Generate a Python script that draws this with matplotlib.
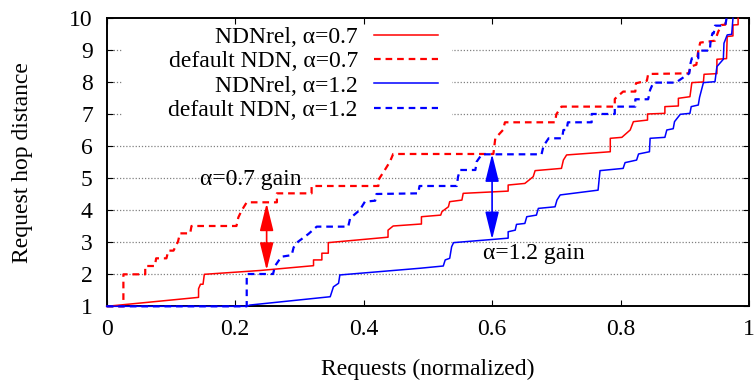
import matplotlib
matplotlib.use("Agg")
import matplotlib.pyplot as plt
from matplotlib.patches import Rectangle, FancyArrowPatch

plt.rcParams['font.family'] = ['Liberation Serif', 'DejaVu Serif']

# ---------------- data (fraction of requests, hop distance) ----------------
rel07_x = [0.0, 0.143, 0.143, 0.146, 0.150, 0.152, 0.239, 0.322, 0.322, 0.335, 0.335, 0.345, 0.345,
           0.438, 0.438, 0.446, 0.488, 0.490, 0.490, 0.520, 0.522, 0.532, 0.534, 0.553, 0.555,
           0.625, 0.625, 0.651, 0.664, 0.667, 0.708, 0.711, 0.716, 0.784, 0.784, 0.802, 0.815,
           0.820, 0.842, 0.842, 0.869, 0.869, 0.890, 0.890, 0.908, 0.911, 0.929, 0.930, 0.950,
           0.950, 0.965, 0.966, 0.975, 0.975, 0.983, 0.983]
rel07_y = [1.0, 1.28, 1.55, 1.69, 1.69, 2.0, 2.12, 2.27, 2.45, 2.45, 2.66, 2.66, 2.99,
           3.16, 3.38, 3.51, 3.57, 3.57, 3.80, 3.85, 3.96, 4.11, 4.27, 4.32, 4.53,
           4.60, 4.79, 4.84, 5.05, 5.24, 5.31, 5.57, 5.73, 5.83, 6.25, 6.28, 6.51,
           6.77, 6.82, 7.01, 7.03, 7.24, 7.26, 7.50, 7.55, 7.99, 8.01, 8.25, 8.27,
           8.72, 8.74, 9.43, 9.45, 9.79, 9.80, 10.0]

def07_x = [0.0, 0.026, 0.026, 0.060, 0.060, 0.075, 0.077, 0.093, 0.096, 0.104, 0.111, 0.114,
           0.130, 0.132, 0.202, 0.205, 0.210, 0.218, 0.265, 0.265, 0.319, 0.319, 0.423, 0.423,
           0.433, 0.441, 0.446, 0.602, 0.605, 0.617, 0.620, 0.698, 0.700, 0.708, 0.791, 0.791,
           0.804, 0.823, 0.824, 0.841, 0.843, 0.906, 0.909, 0.918, 0.921, 0.924, 0.947, 0.952,
           0.957, 0.963, 0.965]
def07_y = [1.0, 1.0, 2.0, 2.0, 2.26, 2.26, 2.50, 2.50, 2.74, 2.74, 3.02, 3.28,
           3.28, 3.51, 3.51, 3.78, 3.99, 4.25, 4.25, 4.53, 4.53, 4.76, 4.76, 4.95,
           5.26, 5.52, 5.76, 5.76, 6.25, 6.51, 6.75, 6.75, 7.00, 7.24, 7.24, 7.48,
           7.71, 7.71, 7.97, 8.05, 8.26, 8.28, 8.49, 8.55, 8.99, 9.24, 9.30, 9.58,
           9.79, 9.80, 10.0]

rel12_x = [0.0, 0.218, 0.223, 0.348, 0.353, 0.361, 0.363, 0.488, 0.524, 0.527, 0.534, 0.537,
           0.540, 0.625, 0.625, 0.636, 0.638, 0.651, 0.654, 0.669, 0.672, 0.698, 0.701, 0.706,
           0.765, 0.768, 0.804, 0.807, 0.825, 0.828, 0.845, 0.846, 0.869, 0.872, 0.882, 0.884,
           0.893, 0.908, 0.910, 0.921, 0.923, 0.926, 0.929, 0.947, 0.950, 0.960, 0.961, 0.966,
           0.973, 0.975]
rel12_y = [1.0, 1.0, 1.04, 1.30, 1.61, 1.72, 1.98, 2.19, 2.26, 2.45, 2.50, 2.86,
           2.99, 3.13, 3.33, 3.38, 3.56, 3.59, 3.80, 3.85, 4.06, 4.11, 4.32, 4.48,
           4.63, 5.24, 5.31, 5.49, 5.57, 5.76, 5.83, 6.25, 6.28, 6.51, 6.55, 6.77,
           7.00, 7.03, 7.24, 7.29, 7.53, 7.76, 7.99, 8.02, 8.49, 8.72, 9.22, 9.48,
           9.50, 10.0]

def12_x = [0.0, 0.218, 0.218, 0.259, 0.262, 0.272, 0.288, 0.291, 0.298, 0.314, 0.327, 0.376,
           0.379, 0.394, 0.402, 0.418, 0.420, 0.485, 0.487, 0.545, 0.547, 0.550, 0.574, 0.576,
           0.584, 0.677, 0.680, 0.688, 0.709, 0.711, 0.716, 0.718, 0.755, 0.755, 0.791, 0.791,
           0.823, 0.823, 0.843, 0.846, 0.851, 0.886, 0.907, 0.909, 0.911, 0.921, 0.921, 0.939,
           0.940, 0.943, 0.945, 0.947, 0.963, 0.965]
def12_y = [1.0, 1.0, 2.01, 2.01, 2.26, 2.55, 2.60, 2.84, 3.02, 3.26, 3.49, 3.49,
           3.75, 4.01, 4.27, 4.30, 4.51, 4.53, 4.76, 4.76, 5.05, 5.26, 5.26, 5.52,
           5.75, 5.75, 6.01, 6.25, 6.25, 6.51, 6.51, 6.75, 6.75, 7.01, 7.01, 7.24,
           7.24, 7.47, 7.47, 7.76, 7.99, 7.99, 8.28, 8.60, 8.75, 8.75, 8.99, 8.99,
           9.25, 9.53, 9.53, 9.77, 9.77, 10.0]

labels = ["NDNrel, \u03b1=0.7", "default NDN, \u03b1=0.7",
          "NDNrel, \u03b1=1.2", "default NDN, \u03b1=1.2"]
x_ticks = [0, 0.2, 0.4, 0.6, 0.8, 1]
x_ticklabels = ["0", "0.2", "0.4", "0.6", "0.8", "1"]
y_ticks = [1, 2, 3, 4, 5, 6, 7, 8, 9, 10]

gain07_x, gain07_top, gain07_bot = 0.249, 4.22, 2.13
gain12_x, gain12_top, gain12_bot = 0.600, 5.76, 3.09

# ---------------- figure ----------------
FS = 17
fig = plt.figure(figsize=(7.54, 3.81), dpi=100)
ax = fig.add_axes([0.1415, 0.196, 0.8519, 0.756])
ax.set_xlim(0, 1)
ax.set_ylim(1, 10)

# grid (horizontal dotted)
for yv in y_ticks[1:-1]:
    ax.axhline(yv, color='#808080', lw=0.9, ls=(0, (1, 1.5)), zorder=0.5)

# white legend backdrop (covers gridlines behind the key)
ax.add_patch(Rectangle((0.024, 0.61), 0.514, 0.39, transform=ax.transAxes,
                       facecolor='white', edgecolor='none', zorder=1))

red, blue = '#ff0000', '#0000ff'
ax.plot(rel07_x, rel07_y, color=red, lw=1.1, label=labels[0], zorder=3, clip_on=False)
ax.plot(def07_x, def07_y, color=red, lw=1.6, dashes=(3.0, 2.2), label=labels[1], zorder=3,
        clip_on=False)
ax.plot(rel12_x, rel12_y, color=blue, lw=1.1, label=labels[2], zorder=3, clip_on=False)
ax.plot(def12_x, def12_y, color=blue, lw=1.6, dashes=(3.0, 2.2), label=labels[3], zorder=3,
        clip_on=False)

# gain arrows
for gx, gt, gb, c in [(gain07_x, gain07_top, gain07_bot, red),
                      (gain12_x, gain12_top, gain12_bot, blue)]:
    ax.add_patch(FancyArrowPatch((gx, gb), (gx, gt),
                                 arrowstyle='<|-|>,head_length=1.7,head_width=0.42',
                                 mutation_scale=10, color=c, lw=1.2,
                                 shrinkA=0, shrinkB=0, zorder=4))

ax.text(0.225, 4.95, "\u03b1=0.7 gain", fontsize=FS, ha='center', va='center', zorder=5)
ax.text(0.665, 2.66, "\u03b1=1.2 gain", fontsize=FS, ha='center', va='center', zorder=5)

# axes styling
ax.set_xticks(x_ticks)
ax.set_xticklabels(x_ticklabels)
ax.set_yticks(y_ticks)
ax.tick_params(direction='in', length=4.5, width=0.8, top=True, right=True,
               labelsize=FS)
ax.tick_params(axis='x', pad=9)
ax.tick_params(axis='y', pad=10)
for s in ax.spines.values():
    s.set_linewidth(1.4)
    s.set_zorder(2.5)

ax.set_xlabel("Requests (normalized)", fontsize=FS)
ax.set_ylabel("Request hop distance", fontsize=FS)
ax.xaxis.set_label_coords(0.5, -0.22)
ax.xaxis.label.set_va('center')
ax.yaxis.set_label_coords(-0.131, 0.5)
ax.yaxis.label.set_va('center')

leg = ax.legend(loc='upper right', bbox_to_anchor=(0.516, 0.972), frameon=False,
                markerfirst=False, fontsize=FS, handlelength=2.7, handletextpad=0.7,
                labelspacing=0.12, borderpad=0, borderaxespad=0)
leg.set_zorder(6)

fig.savefig("out.png", dpi=100)
